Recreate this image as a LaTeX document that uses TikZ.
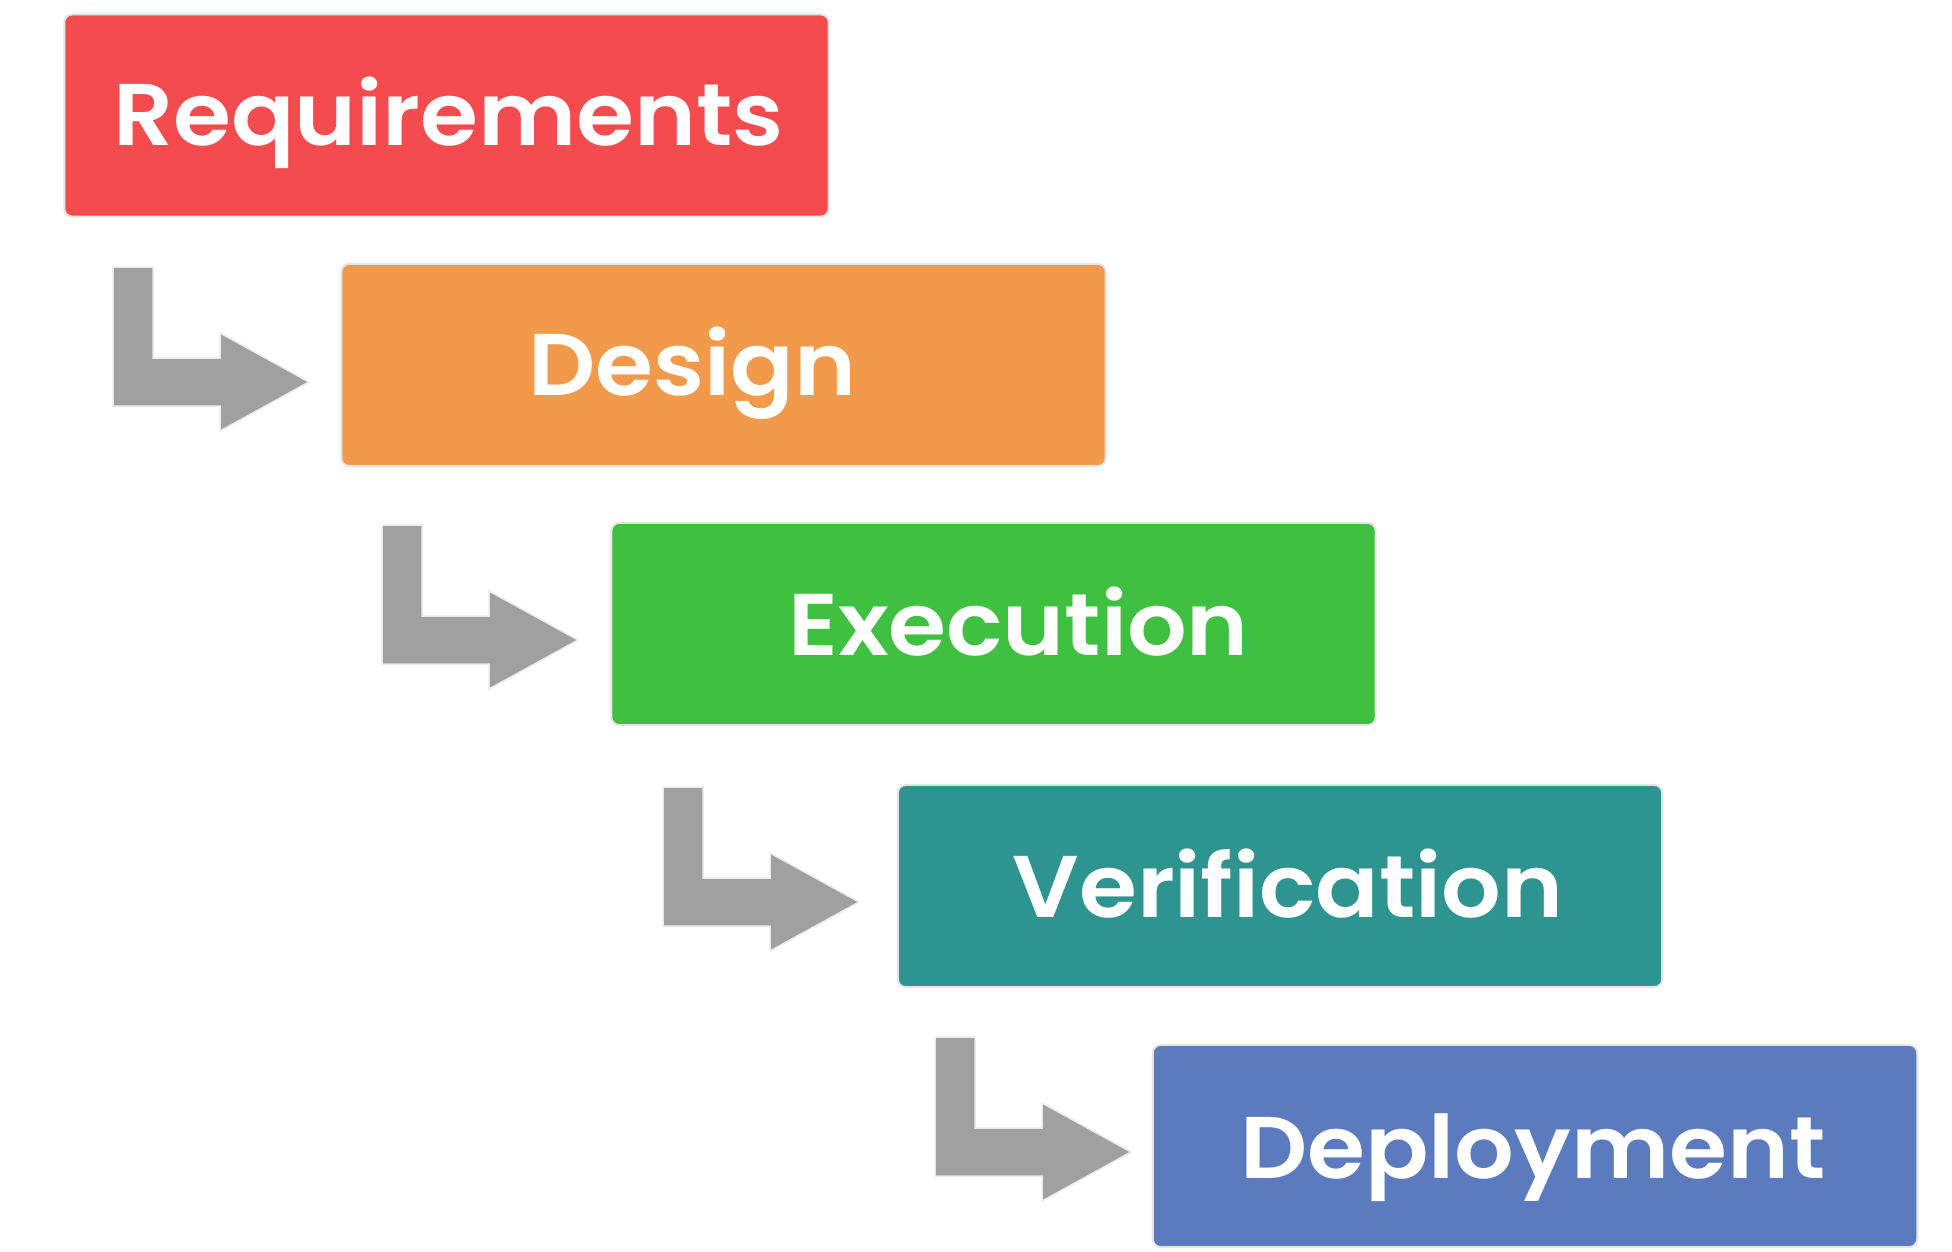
\documentclass[tikz,border=0pt]{standalone}
\usepackage{fontspec}
\setmainfont{Poppins}
\newfontfamily\lblfont{Poppins SemiBold}[FakeStretch=1.07]
\usetikzlibrary{calc}
\definecolor{reqred}{HTML}{F44B4E}
\definecolor{desorange}{HTML}{F29A4C}
\definecolor{exegreen}{HTML}{40C040}
\definecolor{verteal}{HTML}{2E9490}
\definecolor{depblue}{HTML}{5C7ABE}
\definecolor{arrowgray}{HTML}{A0A0A0}
\begin{document}
\begin{tikzpicture}[x=0.01cm,y=-0.01cm,
  stepbox/.style={rounded corners=0.08cm, minimum width=7.64cm, minimum height=2.02cm,
    draw=black!10, line width=0.02cm, inner sep=0pt},
  lbl/.style={anchor=base, text=white, inner sep=0pt,
    font=\fontsize{24.9}{30}\selectfont\lblfont},
  larrow/.pic={
    \filldraw[fill=arrowgray, draw=black!8, line width=0.015cm]
      (0,0) -- (40,0) -- (40,91) -- (107,91) -- (107,66) -- (196,115)
      -- (107,164) -- (107,139) -- (0,139) -- cycle;
  }]
\fill[white] (0,0) rectangle (1952,1251);
\useasboundingbox (0,0) rectangle (1952,1251);

\node[stepbox, fill=reqred] (req) at (446.5,115.5) {};
\node[lbl] (reqtxt) at ([shift={(2,30)}]req.center) {Requirements};

\node[stepbox, fill=desorange] (des) at (723.5,365) {};
\node[lbl] (destxt) at ([shift={(-31,30)}]des.center) {Design};

\node[stepbox, fill=exegreen] (exe) at (993.5,624) {};
\node[lbl] (exetxt) at ([shift={(25,31)}]exe.center) {Execution};

\node[stepbox, fill=verteal] (ver) at (1280,886) {};
\node[lbl] (vertxt) at ([shift={(8,31)}]ver.center) {Verification};

\node[stepbox, fill=depblue] (dep) at (1535,1146) {};
\node[lbl] (deptxt) at ([shift={(-2,32)}]dep.center) {Deployment};

\pic (a1) at (113,267) {larrow};
\pic (a2) at (382,525) {larrow};
\pic (a3) at (663,787) {larrow};
\pic (a4) at (935,1037) {larrow};
\end{tikzpicture}
\end{document}
